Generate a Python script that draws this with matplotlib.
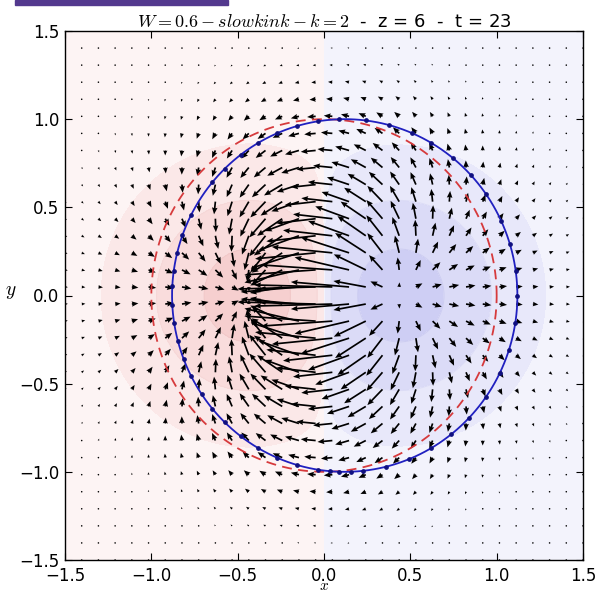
import numpy as np
import matplotlib
matplotlib.use("Agg")
import matplotlib.pyplot as plt
from matplotlib.patches import Rectangle

# ---------------- data ----------------
grid_x = np.linspace(-1.5, 1.5, 32)          # quiver sample columns
grid_y = np.linspace(-1.5, 1.5, 32)          # quiver sample rows
doublet_core = 0.43                          # core radius of the velocity doublet
doublet_amp = 0.088                          # velocity amplitude (data units of arrow length)
envelope_x = 1.7                             # fall-off of the field outside the tube
envelope_y = 1.3

sink_center = (-0.43, 0.0)                   # red blob
source_center = (0.43, 0.0)                  # blue blob
blob_width = 0.38
ring_radii = [0.86, 0.54, 0.265]             # outer -> inner contour radii
red_colors = ['#fdf4f4', '#fbe8e8', '#f9dcdc', '#f6cfcf']   # bg, ring3, ring2, inner
blue_colors = ['#f3f3fc', '#e8e8fa', '#dbdbf7', '#cecef4']  # bg, ring3, ring2, inner

tube_center = (0.0, 0.0)
tube_radius = 1.0
boundary_center = (0.12, 0.0)
boundary_radius = 1.0
marker_angles_deg = [0, 8, 17, 25, 35, 43, 51, 60, 67, 75, 83, 92, 99, 106, 113,
                     120, 127, 134, 140, 153, 160, 166, 172, 177, 183, 189, 195,
                     201, 207, 214, 220, 226, 233, 240, 247, 254, 261, 265, 268,
                     272, 276, 284, 292, 300, 308, 316, 325, 334, 342, 351]

ticks = [-1.5, -1.0, -0.5, 0.0, 0.5, 1.0, 1.5]
title_math = r"$W=0.6-slowkink-k=2$"
title_rest = "  -  z = 6  -  t = 23"

# ---------------- figure ----------------
plt.rcParams['mathtext.fontset'] = 'cm'
fig = plt.figure(figsize=(5.97, 5.94), dpi=100)
ax = fig.add_axes([65 / 597, 1 - 560 / 594, 518 / 597, 529 / 594])

# background scalar (contourf)
xf = np.linspace(-1.5, 1.5, 500)
yf = np.linspace(-1.5, 1.5, 500)
XF, YF = np.meshgrid(xf, yf)
def blob(cx, cy):
    return np.exp(-((XF - cx) ** 2 + (YF - cy) ** 2) / blob_width ** 2)
F = blob(*sink_center) - blob(*source_center)
lv = [float(np.exp(-(r / blob_width) ** 2)) for r in ring_radii]
levels = [-2.0, -lv[2], -lv[1], -lv[0], 0.0, lv[0], lv[1], lv[2], 2.0]
colors = blue_colors[::-1] + red_colors
ax.contourf(XF, YF, F, levels=levels, colors=colors, zorder=0)
ax.contour(XF, YF, F, levels=[-lv[2], -lv[1], lv[1], lv[2]],
           colors=['#c4c4ee', '#d4d4f4', '#f4d4d4', '#eec4c4'],
           linewidths=0.7, alpha=0.6, zorder=0.5)

# velocity field (quiver)
X, Y = np.meshgrid(grid_x, grid_y)
R2 = X ** 2 + Y ** 2 + doublet_core ** 2
env = np.exp(-((X / envelope_x) ** 2 + (Y / envelope_y) ** 2) ** 2)
U = -doublet_amp * (R2 - 2 * X ** 2) / R2 ** 2 * env
V = doublet_amp * 2 * X * Y / R2 ** 2 * env
ax.quiver(X, Y, U, V, angles='xy', scale_units='xy', scale=1, color='k',
          width=0.0033, headwidth=3.3, headlength=4.0, headaxislength=3.6,
          zorder=3)

# tube outlines
th = np.linspace(0, 2 * np.pi, 400)
ax.plot(tube_center[0] + tube_radius * np.cos(th),
        tube_center[1] + tube_radius * np.sin(th),
        ls=(0, (5.5, 3.5)), color='#d63a3c', lw=1.3, zorder=4)
ax.plot(boundary_center[0] + boundary_radius * np.cos(th),
        boundary_center[1] + boundary_radius * np.sin(th),
        '-', color='#2020c0', lw=1.3, zorder=5)
ma = np.deg2rad(marker_angles_deg)
ax.plot(boundary_center[0] + boundary_radius * np.cos(ma),
        boundary_center[1] + boundary_radius * np.sin(ma),
        'o', color='#101080', ms=2.4, mec='#101080', zorder=6)

ax.set_xlim(-1.5, 1.5)
ax.set_ylim(-1.5, 1.5)
ax.set_xticks(ticks)
ax.set_yticks(ticks)
ax.tick_params(direction='in', top=True, right=True, length=5, width=0.8,
               labelsize=12)
ax.tick_params(axis='x', pad=5)
ax.tick_params(axis='y', pad=4)
for s in ax.spines.values():
    s.set_linewidth(1.0)

ax.set_title(title_math + title_rest, fontsize=13, pad=3)
ax.set_ylabel(r"$y$", rotation=0, fontsize=14)
ax.yaxis.set_label_coords(-0.105, 0.49)
ax.set_xlabel(r"$x$", fontsize=11)
ax.xaxis.set_label_coords(0.5, -(593.5 - 560.0) / 529.0)
ax.xaxis.label.set_verticalalignment('bottom')

# purple strip at top-left of the screenshot
fig.patches.append(Rectangle((15 / 597, 1 - 5 / 594), 213 / 597, 5 / 594,
                             transform=fig.transFigure, color='#53398e',
                             zorder=10))

fig.savefig("out.png", dpi=100)
